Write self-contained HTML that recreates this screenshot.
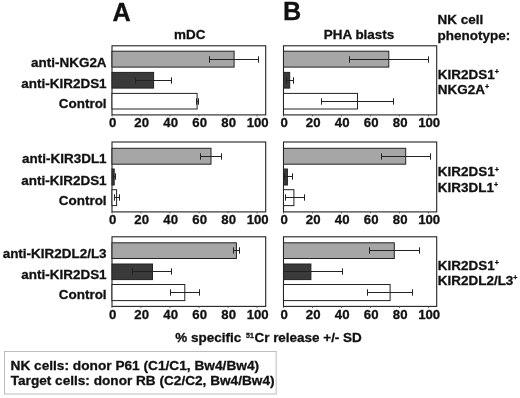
<!DOCTYPE html><html><head><meta charset="utf-8"><title>Figure</title><style>html,body{margin:0;padding:0;background:#fff}svg{display:block}text{font-family:"Liberation Sans",Arial,sans-serif;font-weight:bold;fill:#111;stroke:#111;stroke-width:0.3}</style></head><body>
<svg width="520" height="398" viewBox="0 0 520 398">
<rect width="520" height="398" fill="#fff"/>
<rect x="112.0" y="45.8" width="153.7" height="69.10000000000001" fill="#fff" stroke="#222" stroke-width="1.1"/>
<rect x="112.0" y="51.2" width="122.1" height="15.9" fill="#a6a6a6" stroke="#222" stroke-width="1"/>
<path d="M209.5 59.5H258.5M258.5 56.3v6.4M209.5 56.3v6.4" stroke="#222" stroke-width="1" fill="none"/>
<rect x="112.0" y="72.4" width="41.6" height="15.7" fill="#3a3a3a" stroke="#222" stroke-width="1"/>
<path d="M135.5 80.5H171.5M171.5 77.3v6.4M135.5 77.3v6.4" stroke="#222" stroke-width="1" fill="none"/>
<rect x="112.0" y="93.4" width="85.1" height="15.6" fill="#ffffff" stroke="#222" stroke-width="1"/>
<path d="M196.5 101.5H198.5M198.5 98.3v6.4M196.5 98.3v6.4" stroke="#222" stroke-width="1" fill="none"/>
<path d="M112.0 114.9v1.5" stroke="#555" stroke-width="1"/>
<text transform="translate(112.7 127.4) scale(1 1)" font-size="13.2" text-anchor="middle">0</text>
<path d="M141.0 114.9v1.5" stroke="#555" stroke-width="1"/>
<text transform="translate(141.7 127.4) scale(1 1)" font-size="13.2" text-anchor="middle">20</text>
<path d="M170.0 114.9v1.5" stroke="#555" stroke-width="1"/>
<text transform="translate(170.7 127.4) scale(1 1)" font-size="13.2" text-anchor="middle">40</text>
<path d="M199.0 114.9v1.5" stroke="#555" stroke-width="1"/>
<text transform="translate(199.7 127.4) scale(1 1)" font-size="13.2" text-anchor="middle">60</text>
<path d="M228.0 114.9v1.5" stroke="#555" stroke-width="1"/>
<text transform="translate(228.7 127.4) scale(1 1)" font-size="13.2" text-anchor="middle">80</text>
<path d="M257.0 114.9v1.5" stroke="#555" stroke-width="1"/>
<text transform="translate(257.7 127.4) scale(1 1)" font-size="13.2" text-anchor="middle">100</text>
<rect x="112.0" y="142.0" width="153.7" height="69.9" fill="#fff" stroke="#222" stroke-width="1.1"/>
<rect x="112.0" y="148.3" width="99.0" height="15.9" fill="#a6a6a6" stroke="#222" stroke-width="1"/>
<path d="M200.5 156.5H221.5M221.5 153.3v6.4M200.5 153.3v6.4" stroke="#222" stroke-width="1" fill="none"/>
<rect x="112.0" y="169.0" width="2.2" height="16.0" fill="#3a3a3a" stroke="#222" stroke-width="1"/>
<path d="M113.5 176.5H115.5M115.5 173.3v6.4M113.5 173.3v6.4" stroke="#222" stroke-width="1" fill="none"/>
<rect x="112.0" y="189.7" width="4.6" height="15.9" fill="#ffffff" stroke="#222" stroke-width="1"/>
<path d="M114.5 197.5H119.5M119.5 194.3v6.4M114.5 194.3v6.4" stroke="#222" stroke-width="1" fill="none"/>
<path d="M112.0 211.9v1.5" stroke="#555" stroke-width="1"/>
<text transform="translate(112.7 224.4) scale(1 1)" font-size="13.2" text-anchor="middle">0</text>
<path d="M141.0 211.9v1.5" stroke="#555" stroke-width="1"/>
<text transform="translate(141.7 224.4) scale(1 1)" font-size="13.2" text-anchor="middle">20</text>
<path d="M170.0 211.9v1.5" stroke="#555" stroke-width="1"/>
<text transform="translate(170.7 224.4) scale(1 1)" font-size="13.2" text-anchor="middle">40</text>
<path d="M199.0 211.9v1.5" stroke="#555" stroke-width="1"/>
<text transform="translate(199.7 224.4) scale(1 1)" font-size="13.2" text-anchor="middle">60</text>
<path d="M228.0 211.9v1.5" stroke="#555" stroke-width="1"/>
<text transform="translate(228.7 224.4) scale(1 1)" font-size="13.2" text-anchor="middle">80</text>
<path d="M257.0 211.9v1.5" stroke="#555" stroke-width="1"/>
<text transform="translate(257.7 224.4) scale(1 1)" font-size="13.2" text-anchor="middle">100</text>
<rect x="112.0" y="236.8" width="153.7" height="69.59999999999997" fill="#fff" stroke="#222" stroke-width="1.1"/>
<rect x="112.0" y="242.8" width="124.4" height="15.7" fill="#a6a6a6" stroke="#222" stroke-width="1"/>
<path d="M233.5 250.5H239.5M239.5 247.3v6.4M233.5 247.3v6.4" stroke="#222" stroke-width="1" fill="none"/>
<rect x="112.0" y="264.0" width="40.5" height="15.6" fill="#3a3a3a" stroke="#222" stroke-width="1"/>
<path d="M132.5 271.5H171.5M171.5 268.3v6.4M132.5 268.3v6.4" stroke="#222" stroke-width="1" fill="none"/>
<rect x="112.0" y="284.5" width="72.8" height="16.1" fill="#ffffff" stroke="#222" stroke-width="1"/>
<path d="M170.5 292.5H199.5M199.5 289.3v6.4M170.5 289.3v6.4" stroke="#222" stroke-width="1" fill="none"/>
<path d="M112.0 306.4v1.5" stroke="#555" stroke-width="1"/>
<text transform="translate(112.7 318.9) scale(1 1)" font-size="13.2" text-anchor="middle">0</text>
<path d="M141.0 306.4v1.5" stroke="#555" stroke-width="1"/>
<text transform="translate(141.7 318.9) scale(1 1)" font-size="13.2" text-anchor="middle">20</text>
<path d="M170.0 306.4v1.5" stroke="#555" stroke-width="1"/>
<text transform="translate(170.7 318.9) scale(1 1)" font-size="13.2" text-anchor="middle">40</text>
<path d="M199.0 306.4v1.5" stroke="#555" stroke-width="1"/>
<text transform="translate(199.7 318.9) scale(1 1)" font-size="13.2" text-anchor="middle">60</text>
<path d="M228.0 306.4v1.5" stroke="#555" stroke-width="1"/>
<text transform="translate(228.7 318.9) scale(1 1)" font-size="13.2" text-anchor="middle">80</text>
<path d="M257.0 306.4v1.5" stroke="#555" stroke-width="1"/>
<text transform="translate(257.7 318.9) scale(1 1)" font-size="13.2" text-anchor="middle">100</text>
<rect x="283.5" y="45.8" width="153.2" height="69.10000000000001" fill="#fff" stroke="#222" stroke-width="1.1"/>
<rect x="283.5" y="51.2" width="105.3" height="15.9" fill="#a6a6a6" stroke="#222" stroke-width="1"/>
<path d="M349.5 59.5H428.5M428.5 56.3v6.4M349.5 56.3v6.4" stroke="#222" stroke-width="1" fill="none"/>
<rect x="283.5" y="72.4" width="6.2" height="15.7" fill="#3a3a3a" stroke="#222" stroke-width="1"/>
<path d="M286.5 80.5H293.5M293.5 77.3v6.4M286.5 77.3v6.4" stroke="#222" stroke-width="1" fill="none"/>
<rect x="283.5" y="93.4" width="74.0" height="15.6" fill="#ffffff" stroke="#222" stroke-width="1"/>
<path d="M321.5 101.5H393.5M393.5 98.3v6.4M321.5 98.3v6.4" stroke="#222" stroke-width="1" fill="none"/>
<path d="M283.5 114.9v1.5" stroke="#555" stroke-width="1"/>
<text transform="translate(284.2 127.4) scale(1 1)" font-size="13.2" text-anchor="middle">0</text>
<path d="M312.5 114.9v1.5" stroke="#555" stroke-width="1"/>
<text transform="translate(313.2 127.4) scale(1 1)" font-size="13.2" text-anchor="middle">20</text>
<path d="M341.5 114.9v1.5" stroke="#555" stroke-width="1"/>
<text transform="translate(342.2 127.4) scale(1 1)" font-size="13.2" text-anchor="middle">40</text>
<path d="M370.5 114.9v1.5" stroke="#555" stroke-width="1"/>
<text transform="translate(371.2 127.4) scale(1 1)" font-size="13.2" text-anchor="middle">60</text>
<path d="M399.5 114.9v1.5" stroke="#555" stroke-width="1"/>
<text transform="translate(400.2 127.4) scale(1 1)" font-size="13.2" text-anchor="middle">80</text>
<path d="M428.5 114.9v1.5" stroke="#555" stroke-width="1"/>
<text transform="translate(429.2 127.4) scale(1 1)" font-size="13.2" text-anchor="middle">100</text>
<rect x="283.5" y="142.0" width="153.2" height="69.9" fill="#fff" stroke="#222" stroke-width="1.1"/>
<rect x="283.5" y="148.3" width="122.2" height="15.9" fill="#a6a6a6" stroke="#222" stroke-width="1"/>
<path d="M381.5 156.5H430.5M430.5 153.3v6.4M381.5 153.3v6.4" stroke="#222" stroke-width="1" fill="none"/>
<rect x="283.5" y="169.0" width="3.9" height="16.0" fill="#3a3a3a" stroke="#222" stroke-width="1"/>
<path d="M284.5 176.5H292.5M292.5 173.3v6.4M284.5 173.3v6.4" stroke="#222" stroke-width="1" fill="none"/>
<rect x="283.5" y="189.7" width="10.4" height="15.9" fill="#ffffff" stroke="#222" stroke-width="1"/>
<path d="M285.5 197.5H304.5M304.5 194.3v6.4M285.5 194.3v6.4" stroke="#222" stroke-width="1" fill="none"/>
<path d="M283.5 211.9v1.5" stroke="#555" stroke-width="1"/>
<text transform="translate(284.2 224.4) scale(1 1)" font-size="13.2" text-anchor="middle">0</text>
<path d="M312.5 211.9v1.5" stroke="#555" stroke-width="1"/>
<text transform="translate(313.2 224.4) scale(1 1)" font-size="13.2" text-anchor="middle">20</text>
<path d="M341.5 211.9v1.5" stroke="#555" stroke-width="1"/>
<text transform="translate(342.2 224.4) scale(1 1)" font-size="13.2" text-anchor="middle">40</text>
<path d="M370.5 211.9v1.5" stroke="#555" stroke-width="1"/>
<text transform="translate(371.2 224.4) scale(1 1)" font-size="13.2" text-anchor="middle">60</text>
<path d="M399.5 211.9v1.5" stroke="#555" stroke-width="1"/>
<text transform="translate(400.2 224.4) scale(1 1)" font-size="13.2" text-anchor="middle">80</text>
<path d="M428.5 211.9v1.5" stroke="#555" stroke-width="1"/>
<text transform="translate(429.2 224.4) scale(1 1)" font-size="13.2" text-anchor="middle">100</text>
<rect x="283.5" y="236.8" width="153.2" height="69.59999999999997" fill="#fff" stroke="#222" stroke-width="1.1"/>
<rect x="283.5" y="242.8" width="110.8" height="15.7" fill="#a6a6a6" stroke="#222" stroke-width="1"/>
<path d="M369.5 250.5H419.5M419.5 247.3v6.4M369.5 247.3v6.4" stroke="#222" stroke-width="1" fill="none"/>
<rect x="283.5" y="264.0" width="27.4" height="15.6" fill="#3a3a3a" stroke="#222" stroke-width="1"/>
<path d="M283.5 271.5H342.5M342.5 268.3v6.4" stroke="#222" stroke-width="1" fill="none"/>
<rect x="283.5" y="284.5" width="106.6" height="16.1" fill="#ffffff" stroke="#222" stroke-width="1"/>
<path d="M367.5 292.5H412.5M412.5 289.3v6.4M367.5 289.3v6.4" stroke="#222" stroke-width="1" fill="none"/>
<path d="M283.5 306.4v1.5" stroke="#555" stroke-width="1"/>
<text transform="translate(284.2 318.9) scale(1 1)" font-size="13.2" text-anchor="middle">0</text>
<path d="M312.5 306.4v1.5" stroke="#555" stroke-width="1"/>
<text transform="translate(313.2 318.9) scale(1 1)" font-size="13.2" text-anchor="middle">20</text>
<path d="M341.5 306.4v1.5" stroke="#555" stroke-width="1"/>
<text transform="translate(342.2 318.9) scale(1 1)" font-size="13.2" text-anchor="middle">40</text>
<path d="M370.5 306.4v1.5" stroke="#555" stroke-width="1"/>
<text transform="translate(371.2 318.9) scale(1 1)" font-size="13.2" text-anchor="middle">60</text>
<path d="M399.5 306.4v1.5" stroke="#555" stroke-width="1"/>
<text transform="translate(400.2 318.9) scale(1 1)" font-size="13.2" text-anchor="middle">80</text>
<path d="M428.5 306.4v1.5" stroke="#555" stroke-width="1"/>
<text transform="translate(429.2 318.9) scale(1 1)" font-size="13.2" text-anchor="middle">100</text>
<text transform="translate(106.6 67.4) scale(1.02 1)" font-size="13.2" text-anchor="end">anti-NKG2A</text>
<text transform="translate(106.6 87.7) scale(1.02 1)" font-size="13.2" text-anchor="end">anti-KIR2DS1</text>
<text transform="translate(106.6 108.4) scale(1.02 1)" font-size="13.2" text-anchor="end">Control</text>
<text transform="translate(106.6 162.9) scale(1.02 1)" font-size="13.2" text-anchor="end">anti-KIR3DL1</text>
<text transform="translate(106.6 184.8) scale(1.02 1)" font-size="13.2" text-anchor="end">anti-KIR2DS1</text>
<text transform="translate(106.6 204.9) scale(1.02 1)" font-size="13.2" text-anchor="end">Control</text>
<text transform="translate(106.6 257.9) scale(1.02 1)" font-size="13.2" text-anchor="end">anti-KIR2DL2/L3</text>
<text transform="translate(106.6 278.6) scale(1.02 1)" font-size="13.2" text-anchor="end">anti-KIR2DS1</text>
<text transform="translate(106.6 299.4) scale(1.02 1)" font-size="13.2" text-anchor="end">Control</text>
<text transform="translate(112.6 20.8) scale(1 1)" font-size="25.2">A</text>
<text transform="translate(283.0 20.4) scale(1 1)" font-size="25.2">B</text>
<text transform="translate(189.7 39.2) scale(1.02 1)" font-size="13.2" text-anchor="middle">mDC</text>
<text transform="translate(359.0 39.4) scale(1.02 1)" font-size="13.2" text-anchor="middle">PHA blasts</text>
<text transform="translate(437.6 24.1) scale(1.02 1)" font-size="13.2">NK cell</text>
<text transform="translate(437.6 39.6) scale(1.02 1)" font-size="13.2">phenotype:</text>
<text transform="translate(437.8 79.2) scale(1.02 1)" font-size="13.2">KIR2DS1<tspan font-size="7" dy="-4.8">+</tspan></text>
<text transform="translate(437.8 93.9) scale(1.02 1)" font-size="13.2">NKG2A<tspan font-size="7" dy="-4.8">+</tspan></text>
<text transform="translate(437.8 176.3) scale(1.02 1)" font-size="13.2">KIR2DS1<tspan font-size="7" dy="-4.8">+</tspan></text>
<text transform="translate(437.8 191.5) scale(1.02 1)" font-size="13.2">KIR3DL1<tspan font-size="7" dy="-4.8">+</tspan></text>
<text transform="translate(437.8 269.6) scale(1.02 1)" font-size="13.2">KIR2DS1<tspan font-size="7" dy="-4.8">+</tspan></text>
<text transform="translate(437.8 284.8) scale(1.02 1)" font-size="13.2">KIR2DL2/L3<tspan font-size="7" dy="-4.8">+</tspan></text>
<text transform="translate(175.3 342.4) scale(1.02 1)" font-size="13.2">% specific <tspan font-size="6.8" dy="-4.5" dx="1.2">51</tspan><tspan dy="4.5" dx="0.6">Cr release +/- SD</tspan></text>
<rect x="4.5" y="351.5" width="271.7" height="42.5" fill="#fff" stroke="#bdbdbd" stroke-width="1"/>
<text transform="translate(10.5 369.5) scale(1.037 1)" font-size="13.2">NK cells: donor P61 (C1/C1, Bw4/Bw4)</text>
<text transform="translate(10.7 384.5) scale(1.032 1)" font-size="13.2">Target cells: donor RB (C2/C2, Bw4/Bw4)</text>
</svg></body></html>
